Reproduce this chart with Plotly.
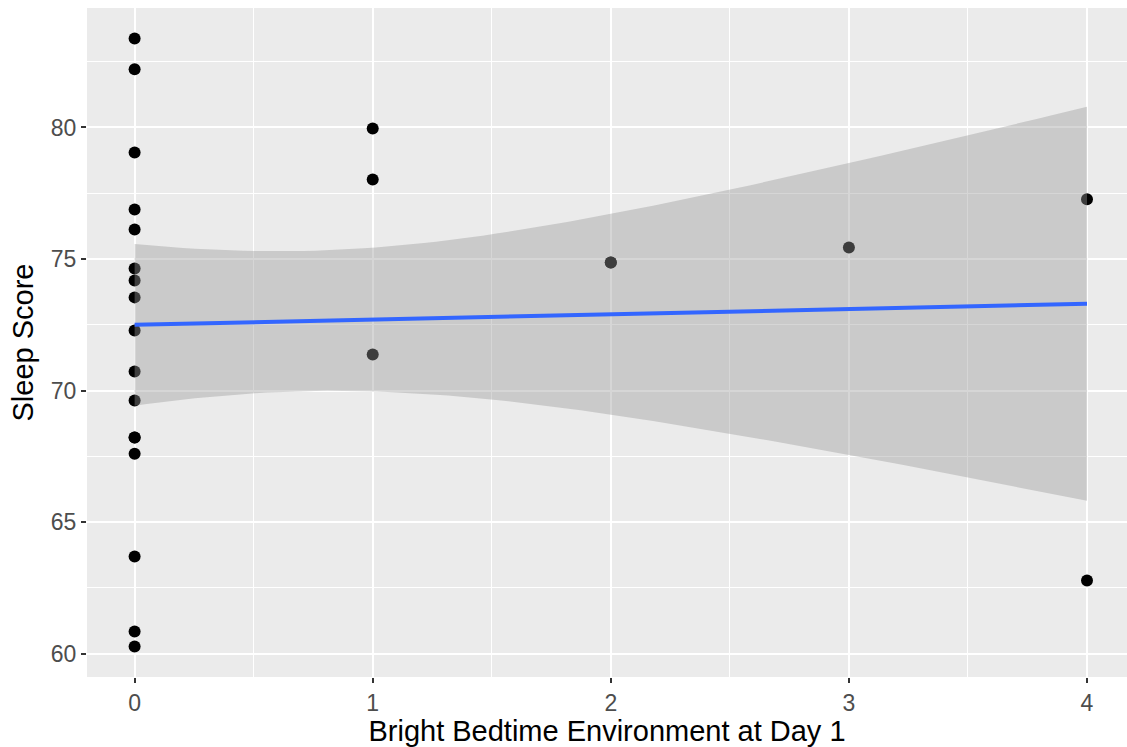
import numpy as np
import plotly.graph_objects as go

# Data (two points overlap others: x=0 ~68.2 and x=2 ~74.9)
bright_env = [0]*17 + [1, 1, 1, 2, 2, 3, 4, 4]
sleep_score = [83.38, 82.21, 79.05, 76.88, 76.12, 74.64, 74.18, 73.54, 72.28, 70.72,
               69.62, 68.21, 68.21, 67.60, 63.69, 60.84, 60.27,
               79.96, 78.02, 71.37, 74.87, 74.87, 75.44, 77.27, 62.78]

x_ticks = [0, 1, 2, 3, 4]
y_ticks = [60, 65, 70, 75, 80]

# Linear model fit with 95% confidence band (like geom_smooth(method="lm"))
x = np.array(bright_env, dtype=float)
y = np.array(sleep_score, dtype=float)
n = len(x)
b1, b0 = np.polyfit(x, y, 1)
resid = y - (b0 + b1 * x)
s = np.sqrt(np.sum(resid**2) / (n - 2))
sxx = np.sum((x - x.mean())**2)
t_crit = 2.0687  # t(0.975, df=23)
xs = np.linspace(x.min(), x.max(), 80)
fit = b0 + b1 * xs
se = s * np.sqrt(1.0 / n + (xs - x.mean())**2 / sxx)
upper = fit + t_crit * se
lower = fit - t_crit * se

fig = go.Figure()
fig.add_trace(go.Scatter(x=bright_env, y=sleep_score, mode="markers",
                         marker=dict(color="black", size=12), showlegend=False))
fig.add_trace(go.Scatter(x=np.concatenate([xs, xs[::-1]]),
                         y=np.concatenate([upper, lower[::-1]]),
                         fill="toself", fillcolor="rgba(153,153,153,0.4)",
                         line=dict(width=0), mode="lines", showlegend=False,
                         hoverinfo="skip"))
fig.add_trace(go.Scatter(x=xs, y=fit, mode="lines",
                         line=dict(color="#3366FF", width=4), showlegend=False))

font_family = "Liberation Sans, Arial, sans-serif"
fig.update_layout(
    width=1127, height=747,
    margin=dict(l=87, r=0, t=8, b=70),
    paper_bgcolor="white", plot_bgcolor="#EBEBEB",
    font=dict(family=font_family, color="#4D4D4D", size=23),
)
fig.update_xaxes(
    range=[-0.2, 4.168], tickvals=x_ticks, ticktext=[str(v) for v in x_ticks],
    showgrid=True, gridcolor="white", gridwidth=2, zeroline=False,
    ticks="outside", ticklen=5, tickwidth=1.5, tickcolor="#333333",
    tickfont=dict(size=23, color="#4D4D4D"),
    minor=dict(dtick=0.5, tick0=0, showgrid=True, gridcolor="white", gridwidth=1, ticks=""),
    title=dict(text="Bright Bedtime Environment at Day 1",
               font=dict(size=29, color="black"), standoff=8),
    showline=False,
)
fig.update_yaxes(
    range=[59.11, 84.54], tickvals=y_ticks, ticktext=[str(v) for v in y_ticks],
    showgrid=True, gridcolor="white", gridwidth=2, zeroline=False,
    ticks="outside", ticklen=5, tickwidth=1.5, tickcolor="#333333",
    tickfont=dict(size=23, color="#4D4D4D"),
    minor=dict(dtick=2.5, tick0=60, showgrid=True, gridcolor="white", gridwidth=1, ticks=""),
    title=dict(text="Sleep Score", font=dict(size=29, color="black"), standoff=8),
    showline=False,
)
fig.write_html("out.html", config={"displayModeBar": False},
               post_script="document.body.style.margin='0px';")
